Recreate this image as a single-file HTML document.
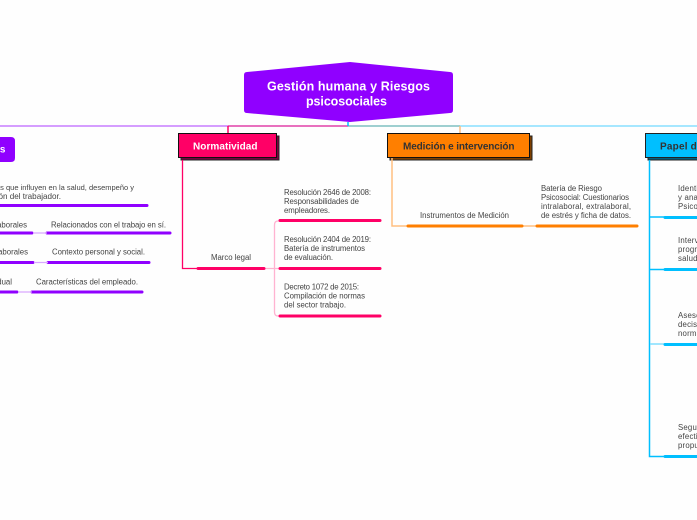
<!DOCTYPE html>
<html lang="es">
<head>
<meta charset="utf-8">
<title>Gestión humana y Riesgos psicosociales</title>
<style>
html,body{margin:0;padding:0;background:#fefefe;width:697px;height:520px;overflow:hidden}
svg{display:block}
text{font-family:"Liberation Sans",sans-serif;font-size:7.8px;fill:#444}
.h{font-weight:700;font-size:10px;letter-spacing:.5px}
.t{font-weight:700;font-size:12.5px;fill:#fff}
.r{letter-spacing:.2px}
</style>
</head>
<body>
<svg width="697" height="520" viewBox="0 0 697 520" xmlns="http://www.w3.org/2000/svg">
<!-- trunk -->
<g fill="none" stroke-width="1.5">
<path d="M0 126H228" stroke="#c77dff"/>
<path d="M228 126H348" stroke="#e040a8"/>
<path d="M348 126H460" stroke="#7fbfc0"/>
<path d="M460 126H697" stroke="#88dfff"/>
<path d="M228 126V133" stroke="#f06"/>
<path d="M460 126V133" stroke="#ffbf80"/>
<path d="M348 122V126" stroke="#00bfff"/>
</g>
<!-- central node -->
<path d="M247 72L350 62L450 72Q453 72 453 75V110Q453 113 450 113L350 122L247 113Q244 113 244 110V75Q244 72 247 72Z" fill="#9000ff"/>
<text class="t" x="267" y="90.500" textLength="163" lengthAdjust="spacing">Gestión humana y Riesgos</text>
<text class="t" x="306" y="105.500" textLength="81" lengthAdjust="spacing">psicosociales</text>

<!-- left branch -->
<path d="M-10 137H11Q15 137 15 141V158Q15 162 11 162H-10Z" fill="#9000ff"/>
<text class="h" x="6" y="152.500" text-anchor="end" style="fill:#fff">Factores</text>
<g stroke="#9000ff" stroke-width="3" stroke-linecap="round" fill="none">
<path d="M-5 205.500H147"/>
<path d="M-5 233H32M47 233H170"/>
<path d="M-5 262.500H33M48 262.500H149"/>
<path d="M-5 292H17M32 292H142"/>
</g>
<path d="M33 233H47M34 262.500H48M18 292H32" stroke="#d9a8ff" stroke-width="1.300" fill="none"/>
<text x="134" y="190" text-anchor="end" style="font-size:7.5px">Factores que influyen en la salud, desempeño y</text>
<text x="61" y="199" text-anchor="end" style="font-size:8.1px">satisfacción del trabajador.</text>
<text x="27" y="227.500" text-anchor="end">Intralaborales</text>
<text x="51" y="227.500" textLength="115" lengthAdjust="spacing">Relacionados con el trabajo en sí.</text>
<text x="28" y="254.500" text-anchor="end">Extralaborales</text>
<text x="52" y="254.500" textLength="93" lengthAdjust="spacing">Contexto personal y social.</text>
<text x="12" y="284.500" text-anchor="end">Individual</text>
<text x="36" y="284.500" textLength="102" lengthAdjust="spacing">Características del empleado.</text>

<!-- Normatividad -->
<rect x="181" y="136" width="98" height="24" fill="#7a0040" stroke="#222" stroke-width="1"/>
<rect x="178.500" y="133.500" width="98" height="24" fill="#f06" stroke="#111" stroke-width="1"/>
<text class="h" x="193" y="149.500" textLength="65" lengthAdjust="spacing" style="fill:#fff">Normatividad</text>
<path d="M182.500 160V268.500H198" stroke="#f06" stroke-width="1.300" fill="none"/>
<path d="M265 268.500H279M279 221H278Q274.500 221 274.500 225V312Q274.500 316 278 316H279" stroke="#ffb3d1" stroke-width="1.300" fill="none"/>
<g stroke="#f06" stroke-width="3" stroke-linecap="round" fill="none">
<path d="M198 268.500H264"/>
<path d="M280 220.500H380"/>
<path d="M280 268.500H380"/>
<path d="M280 316H380"/>
</g>
<text x="211" y="260" textLength="40" lengthAdjust="spacing">Marco legal</text>
<text x="284" y="195" textLength="87" lengthAdjust="spacing">Resolución 2646 de 2008:</text>
<text x="284" y="204" textLength="75" lengthAdjust="spacing">Responsabilidades de</text>
<text x="284" y="213" textLength="46" lengthAdjust="spacing">empleadores.</text>
<text x="284" y="242" textLength="87" lengthAdjust="spacing">Resolución 2404 de 2019:</text>
<text x="284" y="251" textLength="81" lengthAdjust="spacing">Batería de instrumentos</text>
<text x="284" y="260" textLength="49" lengthAdjust="spacing">de evaluación.</text>
<text x="284" y="289.500" textLength="75" lengthAdjust="spacing">Decreto 1072 de 2015:</text>
<text x="284" y="298.500" textLength="81" lengthAdjust="spacing">Compilación de normas</text>
<text x="284" y="307.500" textLength="62" lengthAdjust="spacing">del sector trabajo.</text>

<!-- Medición -->
<rect x="390" y="136" width="142" height="24" fill="#7f4000" stroke="#222" stroke-width="1"/>
<rect x="387.500" y="133.500" width="142" height="24" fill="#ff7f00" stroke="#111" stroke-width="1"/>
<text class="h" x="403" y="149.500" textLength="112" lengthAdjust="spacing" style="fill:#333">Medición e intervención</text>
<path d="M392 158V226H408M523 226H537" stroke="#ffbf80" stroke-width="1.500" fill="none"/>
<g stroke="#ff7f00" stroke-width="3" stroke-linecap="round" fill="none">
<path d="M408 226H522"/>
<path d="M537 226H637"/>
</g>
<text x="420" y="218" textLength="89" lengthAdjust="spacing">Instrumentos de Medición</text>
<text x="541" y="191" textLength="61" lengthAdjust="spacing">Batería de Riesgo</text>
<text x="541" y="200" textLength="88" lengthAdjust="spacing">Psicosocial: Cuestionarios</text>
<text x="541" y="209" textLength="90" lengthAdjust="spacing">intralaboral, extralaboral,</text>
<text x="541" y="218" textLength="90" lengthAdjust="spacing">de estrés y ficha de datos.</text>

<!-- Papel -->
<rect x="648" y="136" width="70" height="24" fill="#005f80" stroke="#222" stroke-width="1"/>
<rect x="645.500" y="133.500" width="70" height="24" fill="#00bfff" stroke="#222" stroke-width="1"/>
<text class="h" x="660" y="149.500" style="fill:#333;letter-spacing:.2px">Papel de RRHH</text>
<path d="M649.500 160V456.500H665M650 217H665M650 269.500H665" stroke="#00bfff" stroke-width="1.500" fill="none"/>
<path d="M650 344H665" stroke="#80dfff" stroke-width="1.500" fill="none"/>
<g stroke="#00bfff" stroke-width="3" stroke-linecap="round" fill="none">
<path d="M665 217.500H710"/>
<path d="M665 269.500H710"/>
<path d="M665 344.500H710"/>
<path d="M665 456.500H710"/>
</g>
<text class="r" x="678" y="191">Identificar</text>
<text class="r" x="678" y="200">y analizar</text>
<text class="r" x="678" y="209">Psicosociales</text>
<text class="r" x="678" y="243">Intervenir</text>
<text class="r" x="678" y="252">programas</text>
<text class="r" x="678" y="261">salud</text>
<text class="r" x="678" y="318">Asesorar</text>
<text class="r" x="678" y="327">decisiones</text>
<text class="r" x="678" y="336">normas</text>
<text class="r" x="678" y="430">Seguimiento</text>
<text class="r" x="678" y="439">efectividad</text>
<text class="r" x="678" y="448">propuestas</text>
</svg>
</body>
</html>
